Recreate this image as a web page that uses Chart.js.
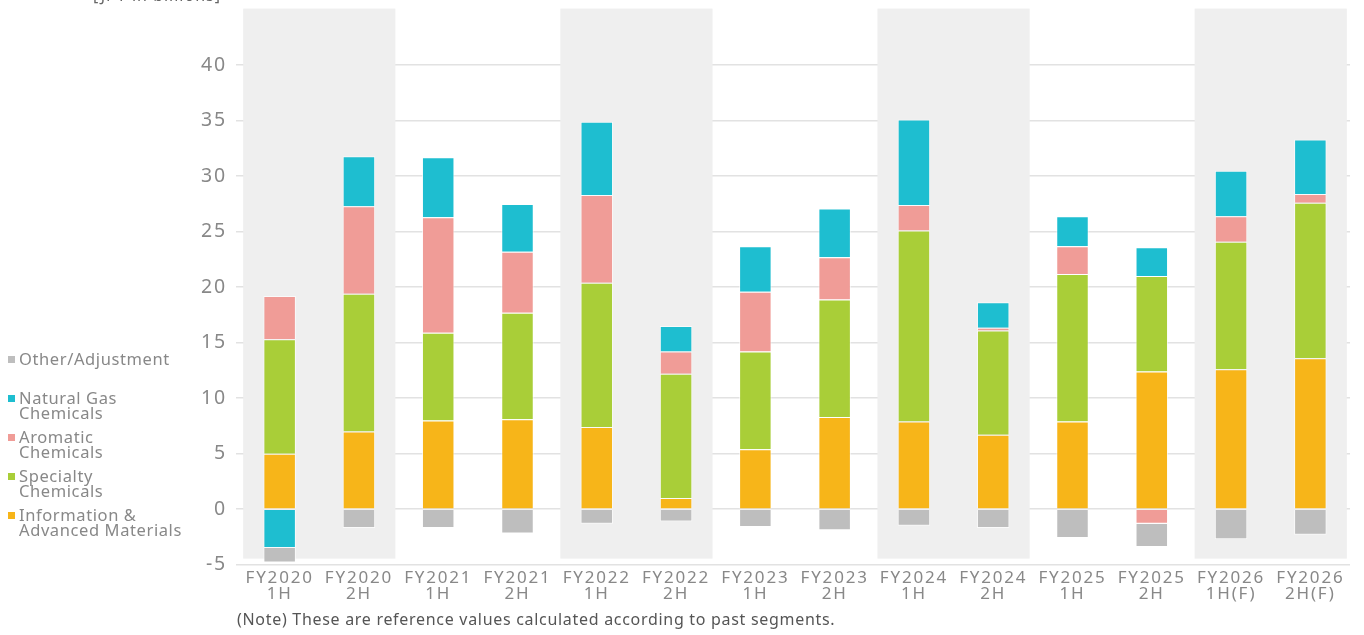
<!DOCTYPE html>
<html>
<head>
<meta charset="utf-8">
<script src="https://cdn.jsdelivr.net/npm/chart.js@4/dist/chart.umd.min.js"></script>
<style>
  html, body { margin: 0; padding: 0; background: #fff; overflow: hidden; }
  body { width: 1364px; height: 635px; position: relative; font-family: "Noto Sans", "Open Sans", sans-serif; }
  #wrap { position: absolute; left: 0; top: -11px; width: 1364px; height: 646px; }
  .unit { position: absolute; left: 93px; top: -16px; font-size: 16px; letter-spacing: 1px; color: #666; }
  .note { position: absolute; left: 237px; top: 608px; font-size: 16px; letter-spacing: 0.7px; color: #555; }
  .legend { position: absolute; left: 8px; top: 351px; color: #888; font-size: 16.5px; letter-spacing: 0.6px; line-height: 15px; }
  .legend div { position: relative; padding-left: 11px; margin-bottom: 9px; }
  .legend span { position: absolute; left: 0; top: 5px; width: 7px; height: 7px; }
</style>
</head>
<body>
<div id="wrap"><canvas id="c" width="1364" height="646"></canvas></div>
<div class="unit">[JPY in billions]</div>
<div class="legend" id="legend"></div>
<div class="note">(Note) These are reference values calculated according to past segments.</div>
<script>
// periods on the x axis
var labels = [
  ["FY2020", "1H"], ["FY2020", "2H"], ["FY2021", "1H"], ["FY2021", "2H"],
  ["FY2022", "1H"], ["FY2022", "2H"], ["FY2023", "1H"], ["FY2023", "2H"],
  ["FY2024", "1H"], ["FY2024", "2H"], ["FY2025", "1H"], ["FY2025", "2H"],
  ["FY2026", "1H(F)"], ["FY2026", "2H(F)"]
];

// segment values (JPY billions)
var infoMaterials = [5.0, 7.0, 8.0, 8.1, 7.4, 1.0, 5.4, 8.3, 7.9, 6.7, 7.9, 12.4, 12.6, 13.6];
var specialty     = [10.3, 12.4, 7.9, 9.6, 13.0, 11.2, 8.8, 10.6, 17.2, 9.4, 13.3, 8.6, 11.5, 14.0];
var aromatic      = [3.9, 7.9, 10.4, 5.5, 7.9, 2.0, 5.4, 3.8, 2.3, 0.25, 2.5, -1.3, 2.3, 0.8];
var naturalGas    = [-3.5, 4.5, 5.4, 4.3, 6.6, 2.3, 4.1, 4.4, 7.7, 2.3, 2.7, 2.6, 4.1, 4.9];
var otherAdj      = [-1.3, -1.7, -1.7, -2.2, -1.3, -1.1, -1.6, -1.9, -1.5, -1.7, -2.6, -2.1, -2.7, -2.3];

// shaded pairs of periods (index of first one)
var bandStarts = [0, 4, 8, 12];
var yTicks = [-5, 0, 5, 10, 15, 20, 25, 30, 35, 40];

var colors = {
  info: "#F7B519",
  spec: "#A9CE38",
  arom: "#F09C97",
  gas: "#1EBED0",
  other: "#BEBEBE"
};

var datasets = [
  { label: "Information &\nAdvanced Materials", data: infoMaterials, backgroundColor: colors.info },
  { label: "Specialty\nChemicals", data: specialty, backgroundColor: colors.spec },
  { label: "Aromatic\nChemicals", data: aromatic, backgroundColor: colors.arom },
  { label: "Natural Gas\nChemicals", data: naturalGas, backgroundColor: colors.gas },
  { label: "Other/Adjustment", data: otherAdj, backgroundColor: colors.other }
];
datasets.forEach(function(d){
  d.borderColor = "rgba(255,255,255,0.7)";
  d.borderWidth = 1;
  d.barPercentage = 0.41;
  d.categoryPercentage = 1.0;
});

// html legend, top item is the last dataset
var lg = document.getElementById("legend");
for (var i = datasets.length - 1; i >= 0; i--) {
  var row = document.createElement("div");
  var sw = document.createElement("span");
  sw.style.background = datasets[i].backgroundColor;
  row.appendChild(sw);
  var parts = datasets[i].label.split("\n");
  row.appendChild(document.createTextNode(parts[0]));
  if (parts[1]) { row.appendChild(document.createElement("br")); row.appendChild(document.createTextNode(parts[1])); }
  if (i == datasets.length - 1) row.style.marginBottom = "24px";
  lg.appendChild(row);
}

var bands = {
  id: "bands",
  beforeDraw: function(chart) {
    chart.ctx.letterSpacing = "1.8px";
  },
  beforeDatasetsDraw: function(chart) {
    var ctx = chart.ctx, x = chart.scales.x, y = chart.scales.y;
    var step = x.getPixelForValue(1) - x.getPixelForValue(0);
    var top = y.getPixelForValue(45.1), bot = y.getPixelForValue(-4.45);
    ctx.save();
    ctx.fillStyle = "#EFEFEF";
    bandStarts.forEach(function(s){
      var l = x.getPixelForValue(s) - step * 0.46;
      var r = x.getPixelForValue(s + 1) + step * 0.46;
      ctx.fillRect(l, top, r - l, bot - top);
    });
    ctx.restore();
  }
};

var fontFam = "'Noto Sans', 'Open Sans', sans-serif";

new Chart(document.getElementById("c"), {
  type: "bar",
  data: { labels: labels, datasets: datasets },
  plugins: [bands],
  options: {
    responsive: false,
    animation: false,
    layout: { padding: { top: 0, right: 14, bottom: 28, left: 0 } },
    plugins: { legend: { display: false }, tooltip: { enabled: false } },
    scales: {
      x: {
        stacked: true,
        grid: { display: false, drawTicks: false, tickLength: 0 },
        border: { display: false },
        ticks: { color: "#888", font: { family: fontFam, size: 17, lineHeight: 0.95 }, padding: 5, maxRotation: 0, autoSkip: false }
      },
      y: {
        stacked: true,
        min: -5,
        max: 45,
        afterFit: function(s){ s.width = 240; },
        afterBuildTicks: function(s){ s.ticks = yTicks.concat([45]).map(function(v){ return { value: v }; }); },
        grid: {
          color: function(c){ return c.tick && c.tick.value == 45 ? "rgba(0,0,0,0)" : "#E2E2E2"; },
          lineWidth: 1.5,
          tickLength: 4,
          drawOnChartArea: true
        },
        border: { display: false },
        ticks: {
          color: "#888",
          font: { family: fontFam, size: 19.5 },
          padding: 9,
          callback: function(v){ return v == 45 ? "" : v; }
        }
      }
    }
  }
});
</script>
</body>
</html>
